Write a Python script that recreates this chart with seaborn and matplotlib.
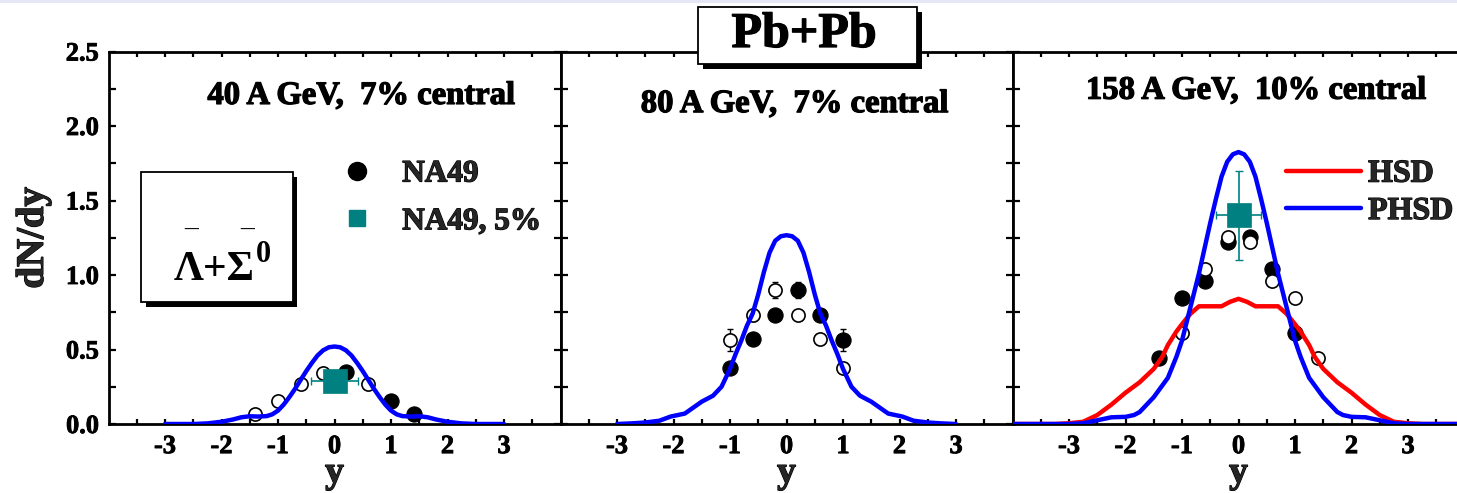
import numpy as np
import pandas as pd
import matplotlib
matplotlib.use("Agg")
import matplotlib.pyplot as plt
from matplotlib.patches import Rectangle
from matplotlib.lines import Line2D
import matplotlib.patheffects as pe
import seaborn as sns

# ---------------- data ----------------
panel_titles = ["40 A GeV,  7% central", "80 A GeV,  7% central", "158 A GeV,  10% central"]
x_ticks = [-3, -2, -1, 0, 1, 2, 3]
y_ticks = [0.0, 0.5, 1.0, 1.5, 2.0, 2.5]

# PHSD curves
phsd40_x = [-3.0, -2.5, -2.25, -2.0, -1.8, -1.65, -1.5, -1.35, -1.2, -1.1, -1.0, -0.9, -0.8, -0.7, -0.6,
            -0.5, -0.4, -0.3, -0.2, -0.1, 0.0, 0.1, 0.2, 0.3, 0.4, 0.5, 0.6, 0.7, 0.8, 0.9, 1.0, 1.1,
            1.2, 1.35, 1.5, 1.65, 1.8, 2.0, 2.25, 2.5, 3.0]
phsd40_y = [0.0, 0.0, 0.004, 0.015, 0.03, 0.045, 0.052, 0.05, 0.053, 0.065, 0.09, 0.13, 0.18, 0.235, 0.295,
            0.355, 0.41, 0.46, 0.495, 0.515, 0.52, 0.515, 0.495, 0.46, 0.41, 0.355, 0.295, 0.235, 0.18, 0.13,
            0.09, 0.065, 0.053, 0.05, 0.052, 0.045, 0.03, 0.015, 0.004, 0.0, 0.0]

phsd80_x = [-3.0, -2.75, -2.5, -2.25, -2.05, -1.8, -1.65, -1.5, -1.3, -1.15, -1.0, -0.9, -0.8, -0.7, -0.6,
            -0.5, -0.4, -0.3, -0.2, -0.1, 0.0, 0.1, 0.2, 0.3, 0.4, 0.5, 0.6, 0.7, 0.8, 0.9, 1.0, 1.15,
            1.3, 1.5, 1.65, 1.8, 2.05, 2.25, 2.5, 2.75, 3.0]
phsd80_y = [0.0, 0.004, 0.01, 0.022, 0.05, 0.07, 0.11, 0.15, 0.19, 0.25, 0.37, 0.47, 0.56, 0.66, 0.74,
            0.87, 1.02, 1.15, 1.23, 1.26, 1.267, 1.26, 1.23, 1.15, 1.02, 0.87, 0.74, 0.66, 0.56, 0.47, 0.37,
            0.25, 0.19, 0.15, 0.11, 0.07, 0.05, 0.022, 0.01, 0.004, 0.0]

phsd158_x = [-4.0, -3.0, -2.75, -2.5, -2.25, -2.0, -1.85, -1.75, -1.5, -1.25, -1.1, -1.0, -0.9, -0.8, -0.7,
             -0.6, -0.5, -0.4, -0.3, -0.2, -0.1, 0.0, 0.1, 0.2, 0.3, 0.4, 0.5, 0.6, 0.7, 0.8, 0.9, 1.0,
             1.1, 1.25, 1.5, 1.75, 1.85, 2.0, 2.25, 2.5, 2.75, 3.0, 4.0]
phsd158_y = [0.0, 0.0, 0.005, 0.025, 0.045, 0.048, 0.06, 0.08, 0.18, 0.31, 0.45, 0.56, 0.71, 0.86, 1.01,
             1.18, 1.35, 1.51, 1.66, 1.76, 1.81, 1.825, 1.81, 1.76, 1.66, 1.51, 1.35, 1.18, 1.01, 0.86, 0.71,
             0.56, 0.45, 0.31, 0.18, 0.08, 0.06, 0.048, 0.045, 0.025, 0.005, 0.0, 0.0]

hsd158_x = [-4.0, -3.25, -3.0, -2.75, -2.5, -2.25, -2.0, -1.75, -1.5, -1.35, -1.25, -1.1, -1.0, -0.85,
            -0.7, -0.5, -0.3, -0.15, 0.0, 0.15, 0.3, 0.5, 0.7, 0.85, 1.0, 1.1, 1.25, 1.35, 1.5, 1.75, 2.0,
            2.25, 2.5, 2.75, 3.0, 3.25, 4.0]
hsd158_y = [0.0, 0.0, 0.005, 0.015, 0.06, 0.13, 0.21, 0.28, 0.37, 0.45, 0.53, 0.62, 0.67, 0.74,
            0.79, 0.79, 0.79, 0.82, 0.84, 0.82, 0.79, 0.79, 0.79, 0.74, 0.67, 0.62, 0.53, 0.45, 0.37, 0.28,
            0.21, 0.13, 0.06, 0.015, 0.005, 0.0, 0.0]

# NA49 data (filled = measured, open = reflected)
na49_40_x = [0.2, 1.0, 1.4]
na49_40_y = [0.35, 0.156, 0.067]
na49_40_err = [0.02, 0.01, 0.01]
refl_40_x = [-1.4, -1.0, -0.6, -0.2, 0.6]
refl_40_y = [0.067, 0.154, 0.27, 0.34, 0.27]
refl_40_err = [0.02, 0.02, 0.02, 0.02, 0.02]

na49_80_x = [-1.0, -0.6, -0.2, 0.2, 0.6, 1.0]
na49_80_y = [0.373, 0.57, 0.73, 0.90, 0.73, 0.563]
na49_80_err = [0.01, 0.01, 0.01, 0.055, 0.04, 0.075]
refl_80_x = [-1.0, -0.6, -0.2, 0.2, 0.6, 1.0]
refl_80_y = [0.563, 0.73, 0.90, 0.73, 0.57, 0.373]
refl_80_err = [0.075, 0.04, 0.055, 0.01, 0.01, 0.01]

na49_158_x = [-1.4, -1.0, -0.6, -0.18, 0.2, 0.6, 1.0]
na49_158_y = [0.44, 0.847, 0.958, 1.222, 1.255, 1.037, 0.61]
na49_158_err = [0.01, 0.01, 0.01, 0.01, 0.01, 0.01, 0.02]
refl_158_x = [-1.0, -0.6, -0.18, 0.2, 0.6, 1.0, 1.4]
refl_158_y = [0.61, 1.037, 1.255, 1.222, 0.958, 0.847, 0.44]
refl_158_err = [0.02, 0.01, 0.01, 0.01, 0.01, 0.01, 0.01]

# NA49 5% central point
na49c_40_x, na49c_40_y, na49c_40_xerr, na49c_40_yerr = [0.0], [0.29], [0.41], [0.05]
na49c_158_x, na49c_158_y, na49c_158_xerr, na49c_158_yerr = [0.0], [1.40], [0.40], [0.30]

# ---------------- style ----------------
sns.set_theme(style="ticks")
plt.rcParams["font.family"] = ["Liberation Serif", "DejaVu Serif"]
plt.rcParams["font.weight"] = "bold"
plt.rcParams["axes.labelweight"] = "bold"

BLUE = "#0000ff"
RED = "#ff0000"
TEAL = "#008080"
HEAVY = [pe.withStroke(linewidth=0.9, foreground="black")]
HEAVY_S = [pe.withStroke(linewidth=0.6, foreground="black")]

W, H = 1457, 493
fig = plt.figure(figsize=(W / 100, H / 100), dpi=100)
fig.patch.set_facecolor("white")

bottom = (H - 424) / H
height = (424 - 51.5) / H
width = 452 / W
lefts = [108.5 / W, 560.5 / W, 1012.5 / W]
axes = [fig.add_axes([l, bottom, width, height]) for l in lefts]


def style_axis(ax, show_ylabels):
    ax.set_xlim(-4, 4)
    ax.set_ylim(0, 2.5)
    ax.set_xticks(x_ticks)
    ax.set_xticks(np.arange(-3.5, 4.0, 0.5), minor=True)
    ax.set_yticks(y_ticks)
    ax.set_yticks(np.arange(0.25, 2.5, 0.5), minor=True)
    ax.set_xticklabels([str(t) for t in x_ticks])
    ax.set_yticklabels([f"{t:.1f}" for t in y_ticks])
    for s in ax.spines.values():
        s.set_visible(True)
        s.set_color("black")
        s.set_linewidth(2.0)
    ax.tick_params(axis="both", which="both", direction="in", color="black", width=1.6,
                   top=True, right=True, labelcolor="black", labelsize=19)
    ax.tick_params(axis="x", which="both", length=3.5, pad=8)
    ax.tick_params(axis="y", which="both", length=5, pad=7)
    if not show_ylabels:
        ax.tick_params(labelleft=False)
    for t in ax.get_xticklabels() + ax.get_yticklabels():
        t.set_path_effects(HEAVY_S)
    ax.set_facecolor("white")
    ax.set_xlabel("y", fontsize=27, fontweight="bold", labelpad=-2)
    ax.xaxis.label.set_path_effects(HEAVY)


def draw_points(ax, fx, fy, fe, ox, oy, oe):
    ax.errorbar(fx, fy, yerr=fe, fmt="none", ecolor="black", elinewidth=1.0, capsize=2.5, zorder=3)
    ax.errorbar(ox, oy, yerr=oe, fmt="none", ecolor="black", elinewidth=1.0, capsize=2.5, zorder=3)
    sns.scatterplot(x=fx, y=fy, ax=ax, marker="o", s=120, color="black", edgecolor="black",
                    linewidth=0.8, zorder=4, label="NA49")
    sns.scatterplot(x=ox, y=oy, ax=ax, marker="o", s=90, facecolor="white", edgecolor="black",
                    linewidth=1.2, zorder=4, label="_refl")


def draw_central(ax, x, y, xe, ye):
    ax.errorbar(x, y, xerr=xe, yerr=ye, fmt="none", ecolor=TEAL, elinewidth=1.2, capsize=3, zorder=5)
    sns.scatterplot(x=x, y=y, ax=ax, marker="s", s=300, color=TEAL, edgecolor=TEAL, linewidth=0.5,
                    zorder=6, label="NA49, 5%")


# ---- panel 1 ----
ax = axes[0]
draw_points(ax, na49_40_x, na49_40_y, na49_40_err, refl_40_x, refl_40_y, refl_40_err)
sns.lineplot(x=phsd40_x, y=phsd40_y, ax=ax, color=BLUE, lw=3.2, zorder=5, label="_phsd", sort=False)
draw_central(ax, na49c_40_x, na49c_40_y, na49c_40_xerr, na49c_40_yerr)

# ---- panel 2 ----
ax = axes[1]
draw_points(ax, na49_80_x, na49_80_y, na49_80_err, refl_80_x, refl_80_y, refl_80_err)
sns.lineplot(x=phsd80_x, y=phsd80_y, ax=ax, color=BLUE, lw=3.2, zorder=5, label="_phsd", sort=False)

# ---- panel 3 ----
ax = axes[2]
draw_points(ax, na49_158_x, na49_158_y, na49_158_err, refl_158_x, refl_158_y, refl_158_err)
sns.lineplot(x=hsd158_x, y=hsd158_y, ax=ax, color=RED, lw=3.2, zorder=5, label="HSD", sort=False)
sns.lineplot(x=phsd158_x, y=phsd158_y, ax=ax, color=BLUE, lw=3.2, zorder=5, label="PHSD", sort=False)
draw_central(ax, na49c_158_x, na49c_158_y, na49c_158_xerr, na49c_158_yerr)

for i, ax in enumerate(axes):
    if ax.get_legend() is not None:
        ax.get_legend().remove()
    style_axis(ax, i == 0)

axes[0].set_ylabel("dN/dy", fontsize=28, fontweight="bold", labelpad=10)
axes[0].yaxis.label.set_path_effects(HEAVY)
for ax in axes[1:]:
    ax.set_ylabel("")

# panel titles
title_pos = [(0.47, 2.205), (0.14, 2.15), (0.31, 2.24)]
for ax, t, (tx, ty) in zip(axes, panel_titles, title_pos):
    ax.text(tx, ty, t, ha="center", va="center", fontsize=23.5, fontweight="bold", color="black",
            zorder=7, path_effects=HEAVY)

# legend panel 1 (proxy keys, smaller than data markers as in the original)
key_na49 = Line2D([], [], ls="none", marker="o", markersize=13, color="black")
key_cent = Line2D([], [], ls="none", marker="s", markersize=12, color=TEAL)
leg1 = axes[0].legend([key_na49, key_cent], ["NA49", "NA49, 5%"], loc="center left",
                      bbox_to_anchor=(0.515, 0.607), frameon=False,
                      handlelength=1.0, handletextpad=0.95, labelspacing=0.6,
                      borderpad=0, borderaxespad=0, prop={"weight": "bold", "size": 22.5})
for t in leg1.get_texts():
    t.set_path_effects(HEAVY)

# legend panel 3
h, l = axes[2].get_legend_handles_labels()
sel = [(hh, ll) for hh, ll in zip(h, l) if ll in ("HSD", "PHSD")]
leg3 = axes[2].legend([s[0] for s in sel], [s[1] for s in sel], loc="center left",
                      bbox_to_anchor=(0.605, 0.621), frameon=False,
                      handlelength=2.35, handletextpad=0.22, labelspacing=0.25,
                      borderpad=0, borderaxespad=0, prop={"weight": "bold", "size": 23})
for t in leg3.get_texts():
    t.set_path_effects(HEAVY)

# Lambda-bar + Sigma-bar box in panel 1
ax = axes[0]
bx0, bx1, by0, by1 = -3.42, -0.743, 0.82, 1.691
dx, dy = 0.088, -0.0335
ax.add_patch(Rectangle((bx0 + dx, by0 + dy), bx1 - bx0, by1 - by0, facecolor="black",
                       edgecolor="black", lw=0, zorder=8))
ax.add_patch(Rectangle((bx0, by0), bx1 - bx0, by1 - by0, facecolor="white",
                       edgecolor="black", lw=1.3, zorder=9))
ax.text(-2.84, 0.965, "\u039b+\u03a3", ha="left", va="baseline", fontsize=30,
        fontweight="bold", color="black", zorder=10)
ax.text(-1.40, 1.09, "0", ha="left", va="baseline", fontsize=22,
        fontweight="bold", color="black", zorder=10)
ax.text(-2.54, 1.325, "_", ha="center", va="baseline", fontsize=20,
        fontweight="normal", color="black", zorder=10)
ax.text(-1.54, 1.325, "_", ha="center", va="baseline", fontsize=20,
        fontweight="normal", color="black", zorder=10)

# Pb+Pb box (figure coords)
px0, py0, pw, ph = 698 / W, (H - 64) / H, 219 / W, 57 / H
fig.add_artist(Rectangle((px0 + 5 / W, py0 - 5 / H), pw, ph, transform=fig.transFigure,
                         facecolor="black", edgecolor="black", lw=0, zorder=10))
fig.add_artist(Rectangle((px0, py0), pw, ph, transform=fig.transFigure,
                         facecolor="white", edgecolor="black", lw=1.3, zorder=11))
fig.text(804 / W, (H - 47) / H, "Pb+Pb", ha="center", va="baseline", fontsize=36,
         fontweight="bold", color="black", zorder=12, path_effects=HEAVY)

# thin band at the very top of the image
fig.add_artist(Rectangle((0, 1 - 2.5 / H), 1, 2.5 / H, transform=fig.transFigure,
                         facecolor="#e6e6f4", edgecolor="none", zorder=13))

fig.savefig("out.png", dpi=100, facecolor="white")
